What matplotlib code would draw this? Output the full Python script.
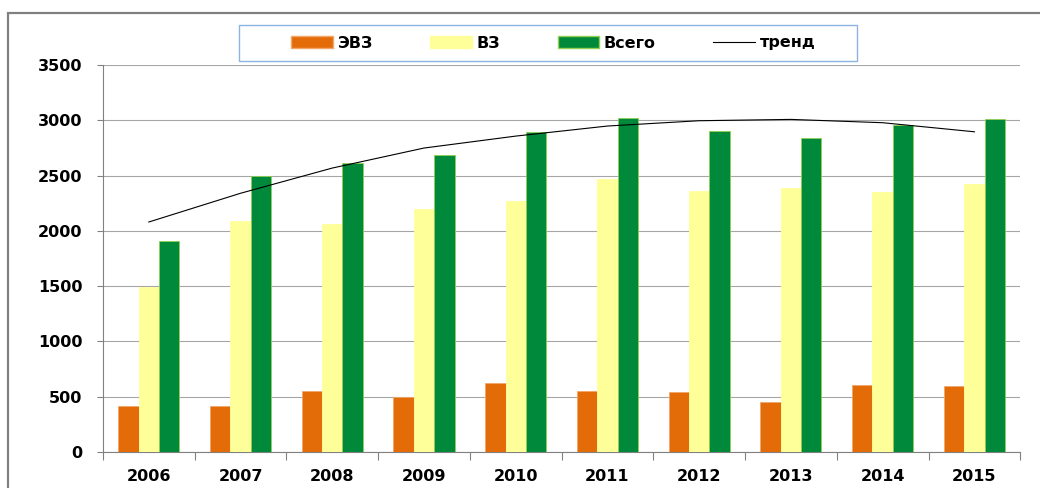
import numpy as np
import matplotlib
matplotlib.use("Agg")
from matplotlib import pyplot as plt
from matplotlib.patches import Rectangle, Patch
from matplotlib.lines import Line2D

years = ['2006', '2007', '2008', '2009', '2010', '2011', '2012', '2013', '2014', '2015']
evz = [420, 420, 550, 495, 625, 550, 540, 455, 610, 600]
vz = [1490, 2085, 2060, 2195, 2270, 2470, 2360, 2385, 2350, 2425]
total = [1910, 2500, 2615, 2690, 2895, 3025, 2900, 2840, 2955, 3015]
trend = [2080, 2340, 2568, 2749, 2857, 2948, 2996, 3008, 2978, 2896]

plt.rcParams['font.family'] = ['DejaVu Sans']
plt.rcParams['font.weight'] = 'bold'

fig = plt.figure(figsize=(10.4, 4.88), dpi=100)
ax = fig.add_axes([0.099, 0.0738, 0.882, 0.793])

x = np.arange(len(years))
w = 0.2222
ax.bar(x - w, evz, w, color='#E36C09', edgecolor='#F2A66A', linewidth=0.6, zorder=3)
ax.bar(x, vz, w, color='#FFFF99', edgecolor='#FFFF99', linewidth=0.6, zorder=3)
ax.bar(x + w, total, w, color='#00893B', edgecolor='#92D050', linewidth=0.6, zorder=3)
ax.plot(x, trend, color='black', linewidth=0.8, zorder=4)

ax.set_xlim(-0.5, len(years) - 0.5)
ax.set_ylim(0, 3500)
ax.set_yticks(np.arange(0, 3501, 500))
ax.set_xticks(x)
ax.set_xticklabels(years)
ax.set_xticks(np.arange(-0.5, len(years), 1), minor=True)
ax.tick_params(axis='x', which='major', length=0, pad=12, labelsize=11.5)
ax.tick_params(axis='x', which='minor', length=5.5, color='#808080', width=0.8)
ax.tick_params(axis='y', length=4.3, color='#808080', width=0.8, pad=10.5, labelsize=11.5)
ax.yaxis.grid(True, color='#A6A6A6', linewidth=0.8, zorder=0)
ax.set_axisbelow(True)
for s in ['top', 'right']:
    ax.spines[s].set_visible(False)
for s in ['left', 'bottom']:
    ax.spines[s].set_color('#808080')
    ax.spines[s].set_linewidth(0.8)

# outer frame of the chart area
fig.patches.append(Rectangle((8 / 1040, -0.05), 1.1, 1 - 13 / 488 + 0.05, transform=fig.transFigure,
                             fill=False, edgecolor='#808080', linewidth=1.6, zorder=0))
# legend frame
fig.patches.append(Rectangle((239 / 1040, 1 - 61 / 488), 618 / 1040, 36 / 488, transform=fig.transFigure,
                             fill=False, edgecolor='#8DB3E2', linewidth=1.0, zorder=1))

handles = [Patch(facecolor='#E36C09', edgecolor='#F2A66A'),
           Patch(facecolor='#FFFF99', edgecolor='#FFFF99'),
           Patch(facecolor='#00893B', edgecolor='#92D050'),
           Line2D([0], [0], color='black', linewidth=0.8)]
fig.legend(handles, ['ЭВЗ', 'ВЗ', 'Всего', 'тренд'], ncol=4, loc='center',
           bbox_to_anchor=(0.532, 1 - 43 / 488), frameon=False, fontsize=11.5,
           handlelength=2.6, handleheight=0.8, handletextpad=0.3, columnspacing=3.6)

plt.savefig('out.png', dpi=100)
